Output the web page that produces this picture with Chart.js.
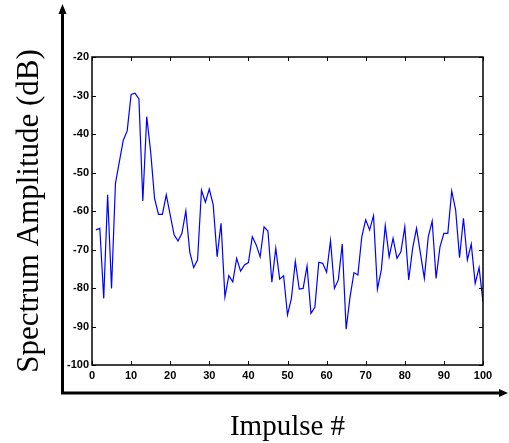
<!DOCTYPE html>
<html>
<head>
<meta charset="utf-8">
<script src="https://cdn.jsdelivr.net/npm/chart.js@4/dist/chart.umd.min.js"></script>
<style>
  html, body { margin: 0; padding: 0; background: #fff; }
  #wrap { width: 509px; height: 443px; }
</style>
</head>
<body>
<div id="wrap"><canvas id="myChart" width="509" height="443"></canvas></div>
<script>
// impulse number and spectrum amplitude (dB)
var impulses = [];
for (var i = 1; i <= 100; i++) impulses.push(i);

var amplitude = [
  -64.9, -64.5, -82.7, -55.8, -80.1, -52.8, -47.2, -41.6, -39.2, -29.7,
  -29.4, -30.9, -57.4, -35.5, -44.6, -56.7, -60.9, -60.9, -55.8, -61.0,
  -66.2, -67.8, -65.8, -60.0, -70.6, -74.7, -72.7, -54.6, -57.7, -54.3,
  -58.4, -71.9, -63.2, -82.3, -76.8, -78.4, -72.3, -75.6, -74.0, -73.4,
  -66.7, -68.8, -71.9, -64.1, -65.2, -78.5, -69.7, -77.7, -76.8, -87.0,
  -82.7, -73.1, -80.3, -80.1, -74.3, -86.6, -85.0, -73.3, -73.6, -75.9,
  -67.7, -80.1, -77.9, -68.6, -90.7, -82.3, -76.0, -76.6, -66.7, -62.3,
  -64.9, -61.2, -80.3, -75.3, -63.8, -71.9, -67.1, -72.3, -70.6, -64.1,
  -77.9, -69.7, -64.5, -71.0, -77.5, -66.7, -62.6, -77.5, -69.3, -65.8,
  -65.8, -54.8, -59.7, -72.1, -61.9, -72.7, -68.6, -78.8, -74.7, -83.6
];

var xTicks = [0, 10, 20, 30, 40, 50, 60, 70, 80, 90, 100];
var yTicks = [-100, -90, -80, -70, -60, -50, -40, -30, -20];

var points = impulses.map(function (x, k) { return { x: x, y: amplitude[k] }; });

// box with inward ticks + the big arrow axes outside
var frame = {
  id: 'frame',
  afterDraw: function (chart) {
    var ctx = chart.ctx;
    var a = chart.chartArea;
    var xs = chart.scales.x, ys = chart.scales.y;
    ctx.save();
    ctx.strokeStyle = '#000';
    ctx.lineWidth = 1.5;
    ctx.strokeRect(a.left, a.top, a.right - a.left, a.bottom - a.top);
    ctx.lineWidth = 1;
    ctx.beginPath();
    xTicks.forEach(function (v) {
      var px = Math.round(xs.getPixelForValue(v)) + 0.5;
      ctx.moveTo(px, a.bottom); ctx.lineTo(px, a.bottom - 4);
      ctx.moveTo(px, a.top); ctx.lineTo(px, a.top + 4);
    });
    yTicks.forEach(function (v) {
      var py = Math.round(ys.getPixelForValue(v)) + 0.5;
      ctx.moveTo(a.left, py); ctx.lineTo(a.left + 4, py);
      ctx.moveTo(a.right, py); ctx.lineTo(a.right - 4, py);
    });
    ctx.stroke();

    // outer arrows
    ctx.lineWidth = 3;
    ctx.beginPath();
    ctx.moveTo(62.5, 394);
    ctx.lineTo(62.5, 12);
    ctx.moveTo(61, 393);
    ctx.lineTo(502, 393);
    ctx.stroke();
    ctx.fillStyle = '#000';
    ctx.beginPath();
    ctx.moveTo(62.5, 4); ctx.lineTo(58.5, 14); ctx.lineTo(66.5, 14); ctx.closePath();
    ctx.fill();
    ctx.beginPath();
    ctx.moveTo(508, 393); ctx.lineTo(499, 389); ctx.lineTo(499, 397); ctx.closePath();
    ctx.fill();
    ctx.restore();
  }
};

var tickFont = { family: 'Liberation Sans, Arial, sans-serif', size: 11, weight: 'bold' };

var myChart = new Chart(document.getElementById('myChart'), {
  type: 'line',
  data: {
    datasets: [{
      data: points,
      borderColor: 'rgb(0, 0, 255)',
      borderWidth: 1.2,
      pointRadius: 0,
      tension: 0,
      fill: false
    }]
  },
  options: {
    responsive: false,
    animation: false,
    layout: { padding: { top: 57, right: 26, left: 0, bottom: 0 } },
    plugins: { legend: { display: false }, tooltip: { enabled: false } },
    scales: {
      x: {
        type: 'linear',
        min: 0,
        max: 100,
        afterBuildTicks: function (s) { s.ticks = xTicks.map(function (v) { return { value: v }; }); },
        afterFit: function (s) { s.height = 78; },
        grid: { display: false, drawTicks: false },
        border: { display: false },
        ticks: { font: tickFont, color: '#000', padding: 4, maxRotation: 0 },
        title: {
          display: true, text: 'Impulse #', color: '#000', padding: { bottom: 1 },
          font: { family: 'Liberation Serif, Times New Roman, serif', size: 29, lineHeight: 1 }
        }
      },
      y: {
        type: 'linear',
        min: -100,
        max: -20,
        afterBuildTicks: function (s) { s.ticks = yTicks.map(function (v) { return { value: v }; }); },
        afterFit: function (s) { s.width = 92; },
        grid: { display: false, drawTicks: false },
        border: { display: false },
        ticks: { font: tickFont, color: '#000', padding: 3 },
        title: {
          display: true, text: 'Spectrum Amplitude (dB)', color: '#000', padding: { top: 14 },
          font: { family: 'Liberation Serif, Times New Roman, serif', size: 31, lineHeight: 1 }
        }
      }
    }
  },
  plugins: [frame]
});
</script>
</body>
</html>
